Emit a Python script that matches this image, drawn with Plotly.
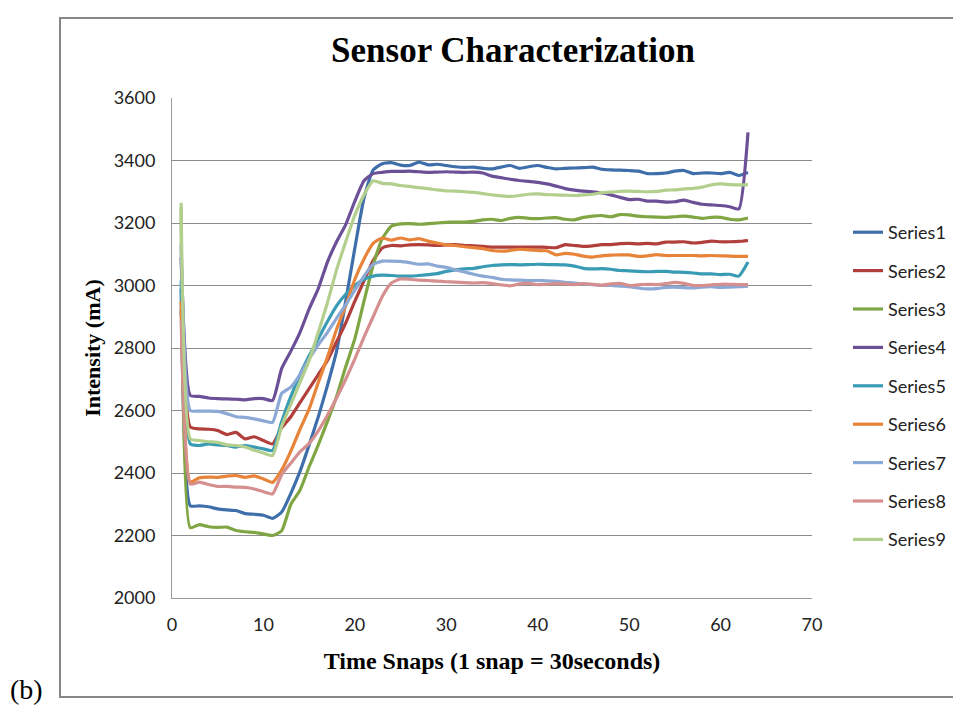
import plotly.graph_objects as go

snaps = list(range(1, 64))

series1 = [2990, 2295, 2295, 2292, 2285, 2282, 2280, 2270, 2268, 2265, 2255, 2275, 2335, 2405, 2490, 2580, 2680, 2790, 2950, 3120,
           3280, 3370, 3390, 3393, 3385, 3384, 3395, 3386, 3388, 3384, 3380, 3378, 3379, 3375, 3373, 3379, 3384, 3375, 3380, 3384,
           3378, 3373, 3375, 3376, 3377, 3379, 3372, 3370, 3369, 3368, 3366, 3358, 3358, 3360, 3366, 3368, 3358, 3360, 3360, 3358,
           3362, 3352, 3362]
series2 = [2920, 2547, 2541, 2540, 2536, 2523, 2530, 2509, 2516, 2504, 2493, 2545, 2580, 2625, 2670, 2715, 2760, 2820, 2880, 2950,
           3015, 3080, 3120, 3128, 3127, 3130, 3131, 3130, 3128, 3130, 3131, 3128, 3127, 3125, 3123, 3123, 3123, 3123, 3123, 3123,
           3122, 3121, 3131, 3128, 3125, 3127, 3131, 3131, 3134, 3135, 3133, 3135, 3133, 3139, 3139, 3140, 3136, 3138, 3142, 3140,
           3140, 3141, 3144]
series3 = [3250, 2225, 2235, 2228, 2226, 2227, 2216, 2212, 2210, 2205, 2200, 2215, 2300, 2345, 2420, 2490, 2565, 2645, 2740, 2830,
           2950, 3065, 3150, 3190, 3197, 3198, 3196, 3198, 3200, 3202, 3203, 3203, 3205, 3210, 3212, 3208, 3215, 3218, 3215, 3214,
           3216, 3217, 3212, 3210, 3218, 3222, 3224, 3220, 3227, 3226, 3222, 3220, 3219, 3218, 3220, 3222, 3219, 3215, 3218, 3218,
           3212, 3210, 3216]
series4 = [3090, 2648, 2645, 2640, 2638, 2637, 2636, 2634, 2638, 2638, 2632, 2735, 2790, 2850, 2925, 2990, 3075, 3140, 3195, 3270,
           3335, 3358, 3362, 3365, 3365, 3366, 3364, 3362, 3363, 3364, 3363, 3362, 3363, 3360, 3350, 3345, 3340, 3336, 3333, 3330,
           3325, 3318, 3310, 3305, 3302, 3300, 3296, 3290, 3282, 3275, 3276, 3270, 3270, 3267, 3268, 3273, 3266, 3260, 3258, 3256,
           3252, 3245, 3490]
series5 = [3015, 2493, 2488, 2493, 2490, 2488, 2483, 2488, 2483, 2477, 2472, 2565, 2645, 2715, 2775, 2830, 2885, 2935, 2972, 3000,
           3020, 3030, 3033, 3032, 3030, 3030, 3032, 3035, 3038, 3045, 3050, 3053, 3055, 3060, 3064, 3066, 3067, 3066, 3067, 3068,
           3067, 3067, 3066, 3062, 3055, 3053, 3054, 3052, 3048, 3047, 3045, 3044, 3045, 3045, 3043, 3042, 3040, 3037, 3037, 3035,
           3036, 3030, 3075]
series6 = [2950, 2371, 2385, 2387, 2386, 2390, 2392, 2386, 2391, 2381, 2370, 2410, 2470, 2540, 2605, 2690, 2770, 2860, 2935, 3020,
           3085, 3135, 3152, 3145, 3152, 3146, 3150, 3142, 3136, 3130, 3128, 3124, 3121, 3118, 3112, 3110, 3112, 3116, 3114, 3112,
           3111, 3098, 3103, 3100, 3094, 3091, 3095, 3097, 3098, 3098, 3093, 3095, 3099, 3096, 3096, 3096, 3096, 3095, 3096, 3095,
           3094, 3093, 3093]
series7 = [3130, 2600, 2598, 2598, 2597, 2590, 2580, 2578, 2573, 2567, 2562, 2655, 2675, 2715, 2765, 2810, 2850, 2895, 2938, 2985,
           3030, 3068, 3078, 3078, 3077, 3073, 3068, 3069, 3062, 3058, 3050, 3043, 3036, 3030, 3026, 3020, 3018, 3017, 3016, 3016,
           3015, 3013, 3010, 3008, 3005, 3003, 3000, 3000, 2998, 2996, 2992, 2989, 2990, 2994, 2995, 2993, 2992, 2995, 2996, 2994,
           2995, 2996, 2998]
series8 = [2890, 2365, 2371, 2363, 2357, 2357, 2355, 2354, 2349, 2340, 2333, 2395, 2432, 2468, 2495, 2535, 2585, 2640, 2700, 2765,
           2835, 2900, 2965, 3008, 3021, 3020, 3017, 3016, 3014, 3012, 3011, 3009, 3008, 3009, 3006, 3002, 2999, 3005, 3007, 3003,
           3004, 3006, 3005, 3003, 3006, 3004, 3001, 3005, 3007, 3000, 3002, 3004, 3003, 3006, 3010, 3007, 3000, 3000, 3002, 3004,
           3004, 3003, 3003]
series9 = [3265, 2509, 2504, 2500, 2498, 2490, 2488, 2483, 2473, 2464, 2456, 2550, 2620, 2690, 2760, 2850, 2945, 3050, 3140, 3225,
           3290, 3335, 3327, 3325, 3320, 3317, 3313, 3310, 3306, 3303, 3302, 3300, 3298, 3294, 3290, 3287, 3285, 3288, 3292, 3293,
           3291, 3290, 3289, 3288, 3290, 3292, 3297, 3299, 3301, 3302, 3301, 3300, 3301, 3305, 3306, 3309, 3311, 3315, 3322, 3325,
           3323, 3322, 3323]

series_names = ["Series1", "Series2", "Series3", "Series4", "Series5", "Series6", "Series7", "Series8", "Series9"]
series_values = [series1, series2, series3, series4, series5, series6, series7, series8, series9]
colors = ["#3F6FAB", "#B13F3C", "#80A644", "#6C5097", "#3A9BB4", "#E8833A", "#8CA8D5", "#D48F8E", "#B3CF8D"]

x_ticks = [0, 10, 20, 30, 40, 50, 60, 70]
y_ticks = [2000, 2200, 2400, 2600, 2800, 3000, 3200, 3400, 3600]

fig = go.Figure()
for name, vals, col in zip(series_names, series_values, colors):
    fig.add_trace(go.Scatter(x=snaps, y=vals, mode="lines", name=name, legendgroup=name,
                             line=dict(color=col, width=3.2, shape="spline", smoothing=0.5)))

# the page adds an 8px body margin; work in page pixels and convert
OFF = 8
W, H = 953, 697
L, T = 164, 90
pw, ph = 640, 500
R = W - L - pw
B = H - T - ph

def px(xp):
    return (xp - OFF - L) / pw

def py(yp):
    return (T + ph - (yp - OFF)) / ph

fig.update_layout(
    width=W, height=H,
    margin=dict(l=L, r=R, t=T, b=B, autoexpand=False),
    paper_bgcolor="white", plot_bgcolor="white",
    title=dict(text="<b>Sensor Characterization</b>", x=px(513), xref="paper", xanchor="center",
               y=1 - (50 - OFF) / H, yanchor="middle",
               font=dict(family="Liberation Serif", size=35, color="black")),
    xaxis=dict(range=[0, 70], tickvals=x_ticks, showgrid=False, zeroline=False,
               showline=True, linecolor="#9a9a9a", linewidth=1, ticks="",
               ticklabelstandoff=10,
               tickfont=dict(family="Lato", size=18, color="#222"),
               title=dict(text="<b>Time Snaps (1 snap = 30seconds)</b>", standoff=18,
                          font=dict(family="Liberation Serif", size=24, color="black"))),
    yaxis=dict(range=[2000, 3600], tickvals=y_ticks, showgrid=True, gridcolor="#8c8c8c", gridwidth=1,
               zeroline=False, showline=True, linecolor="#9a9a9a", linewidth=1, ticks="",
               ticklabelstandoff=12,
               tickfont=dict(family="Lato", size=18, color="#222"),
               title=dict(text="<b>Intensity (mA)</b>", standoff=6,
                          font=dict(family="Liberation Serif", size=22, color="black"))),
    legend=dict(x=px(848), xanchor="left", y=py(214), yanchor="top",
                font=dict(family="Lato", size=18, color="#222"),
                tracegroupgap=12, itemwidth=30, bgcolor="rgba(0,0,0,0)"),
    shapes=[dict(type="rect", xref="paper", yref="paper",
                 x0=px(60), x1=px(975), y0=py(697), y1=py(18),
                 line=dict(color="#878787", width=2), fillcolor="rgba(0,0,0,0)", layer="below")],
    annotations=[dict(text="(b)", xref="paper", yref="paper", x=px(26), y=py(689),
                      xanchor="center", yanchor="middle", showarrow=False,
                      font=dict(family="Liberation Serif", size=28, color="black"))],
)

fig.write_html("out.html")
